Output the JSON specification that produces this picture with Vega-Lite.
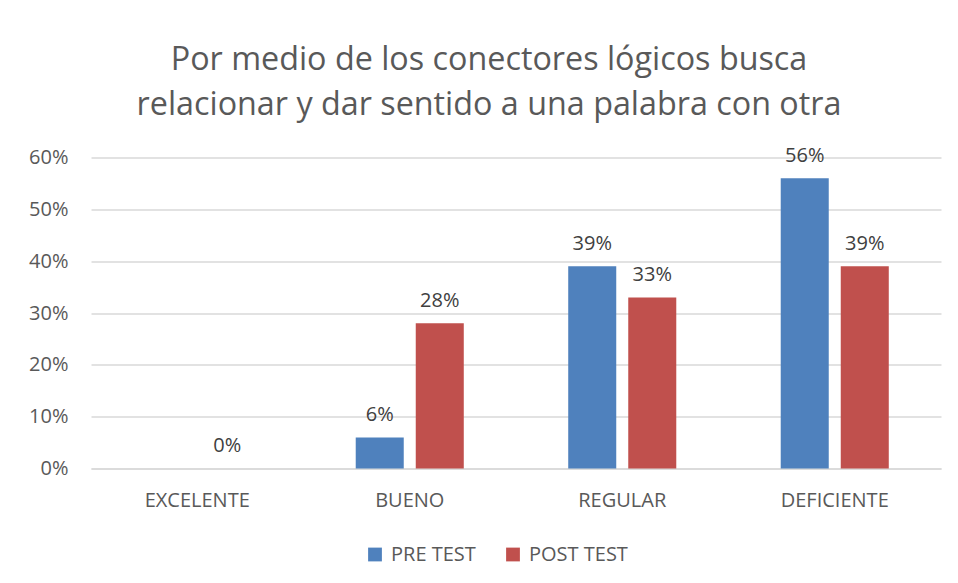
{
  "$schema": "https://vega.github.io/schema/vega-lite/v6.json",
  "width": 850,
  "height": 311,
  "autosize": {"type": "none"},
  "padding": {"left": 91, "top": 157.5, "right": 17, "bottom": 114.5},
  "background": "white",
  "config": {
    "font": "Open Sans",
    "view": {"stroke": null},
    "axis": {"labelFont": "Open Sans", "labelFontSize": 20, "labelColor": "#595959", "gridColor": "#d9d9d9", "gridWidth": 1.3, "domain": false, "ticks": false, "title": null, "labelOverlap": false}
  },
  "title": {
    "text": ["Por medio de los conectores lógicos busca", "relacionar y dar sentido a una palabra con otra"],
    "font": "Open Sans",
    "fontSize": 32.3,
    "fontWeight": "normal",
    "color": "#595959",
    "anchor": "middle",
    "baseline": "alphabetic",
    "lineHeight": 45,
    "offset": -2,
    "dx": -27,
    "frame": "group"
  },
  "data": {
    "values": [
      {"categoria": "EXCELENTE", "serie": "PRE TEST", "valor": null},
      {"categoria": "EXCELENTE", "serie": "POST TEST", "valor": 0},
      {"categoria": "BUENO", "serie": "PRE TEST", "valor": 0.06},
      {"categoria": "BUENO", "serie": "POST TEST", "valor": 0.28},
      {"categoria": "REGULAR", "serie": "PRE TEST", "valor": 0.39},
      {"categoria": "REGULAR", "serie": "POST TEST", "valor": 0.33},
      {"categoria": "DEFICIENTE", "serie": "PRE TEST", "valor": 0.56},
      {"categoria": "DEFICIENTE", "serie": "POST TEST", "valor": 0.39}
    ]
  },
  "encoding": {
    "x": {
      "field": "categoria", "type": "nominal",
      "sort": ["EXCELENTE", "BUENO", "REGULAR", "DEFICIENTE"],
      "scale": {"paddingInner": 0, "paddingOuter": 0},
      "axis": {"labelAngle": 0, "labelPadding": 22, "grid": false, "domain": true, "domainColor": "#d9d9d9", "domainWidth": 1.3}
    },
    "xOffset": {
      "field": "serie", "type": "nominal",
      "sort": ["PRE TEST", "POST TEST"],
      "scale": {"paddingInner": 0.2, "paddingOuter": 0.87}
    },
    "y": {
      "field": "valor", "type": "quantitative",
      "scale": {"domain": [0, 0.6], "nice": false},
      "axis": {"format": ".0%", "values": [0, 0.1, 0.2, 0.3, 0.4, 0.5, 0.6], "labelPadding": 23}
    }
  },
  "layer": [
    {
      "mark": {"type": "bar"},
      "encoding": {
        "color": {
          "field": "serie", "type": "nominal",
          "sort": ["PRE TEST", "POST TEST"],
          "scale": {"domain": ["PRE TEST", "POST TEST"], "range": ["#4F81BD", "#C0504D"]},
          "legend": {
            "title": null,
            "orient": "none",
            "direction": "horizontal",
            "legendX": 274,
            "legendY": 387,
            "symbolType": "square",
            "symbolSize": 190,
            "symbolStrokeWidth": 0,
            "labelFont": "Open Sans",
            "labelFontSize": 20,
            "labelColor": "#595959",
            "labelOffset": 6,
            "columnPadding": 27
          }
        }
      }
    },
    {
      "mark": {"type": "text", "baseline": "alphabetic", "dy": -16.5, "fontSize": 20, "font": "Open Sans", "color": "#404040"},
      "encoding": {
        "text": {"field": "valor", "type": "quantitative", "format": ".0%"}
      }
    }
  ]
}
